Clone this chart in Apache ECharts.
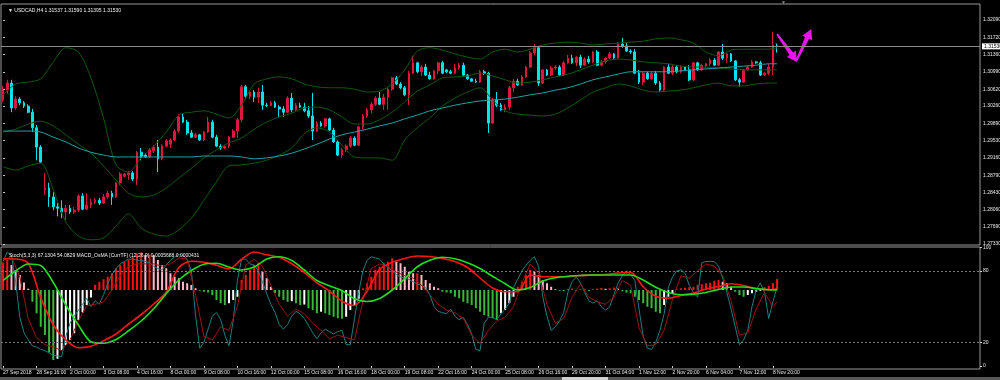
<!DOCTYPE html>
<html><head><meta charset="utf-8">
<script src="https://cdn.jsdelivr.net/npm/echarts@6/dist/echarts.min.js"></script>
<style>html,body{margin:0;padding:0;background:#000;}#c{width:1000px;height:380px;}</style>
</head><body><div id="c"></div>
<script>
// ---------- DATA ----------
const symbolHeader = '\u25BC USDCAD,H4 1.31537 1.31590 1.31395 1.31530';
const indicatorHeader = 'Stoch(5,3,3) 67.1304 54.0829 MACD_OsMA [CurrTF] (12,26,9) 0.0005688 0.0000431';
const priceTicks = [1.32090,1.31720,1.31360,1.30990,1.30620,1.30260,1.29890,1.29530,1.29160,1.28790,1.28430,1.28060,1.27690,1.27330];
const oscTicks = [0,20,80,100];
const firstLabel = '27 Sep 2018';
// [open, high, low, close]
const ohlc = [
[1.3039,1.3069,1.3035,1.3060],[1.3060,1.3082,1.3052,1.3075],[1.3075,1.3082,1.3013,1.3022],[1.3022,1.3047,1.3018,1.3041],[1.3041,1.3045,1.3028,1.3033],
[1.3033,1.3037,1.3022,1.3026],[1.3026,1.3030,1.3011,1.3013],[1.3013,1.3020,1.2971,1.2980],[1.2980,1.2986,1.2911,1.2939],[1.2939,1.2943,1.2905,1.2907],
[1.2848,1.2884,1.2837,1.2852],[1.2852,1.2863,1.2812,1.2833],[1.2833,1.2843,1.2805,1.2812],[1.2812,1.2820,1.2792,1.2809],[1.2809,1.2826,1.2788,1.2801],
[1.2801,1.2816,1.2784,1.2809],[1.2809,1.2816,1.2797,1.2801],[1.2801,1.2812,1.2797,1.2805],[1.2805,1.2839,1.2801,1.2835],[1.2835,1.2841,1.2805,1.2807],
[1.2807,1.2841,1.2805,1.2816],[1.2816,1.2829,1.2809,1.2822],[1.2822,1.2831,1.2818,1.2826],[1.2826,1.2831,1.2816,1.2820],[1.2820,1.2839,1.2818,1.2833],
[1.2833,1.2846,1.2829,1.2841],[1.2841,1.2846,1.2816,1.2833],[1.2833,1.2865,1.2831,1.2863],[1.2863,1.2886,1.2858,1.2882],[1.2877,1.2884,1.2875,1.2882],
[1.2880,1.2888,1.2869,1.2884],[1.2884,1.2888,1.2867,1.2871],[1.2871,1.2931,1.2858,1.2928],[1.2928,1.2937,1.2911,1.2918],[1.2922,1.2926,1.2916,1.2918],
[1.2918,1.2937,1.2916,1.2933],[1.2931,1.2943,1.2926,1.2939],[1.2939,1.2954,1.2886,1.2914],[1.2914,1.2945,1.2911,1.2941],[1.2941,1.2956,1.2939,1.2952],
[1.2945,1.2958,1.2937,1.2954],[1.2954,1.2977,1.2952,1.2973],[1.2973,1.3009,1.2969,1.3003],[1.3003,1.3011,1.2990,1.2992],[1.2992,1.2997,1.2965,1.2969],
[1.2969,1.2975,1.2958,1.2960],[1.2960,1.2969,1.2958,1.2965],[1.2965,1.2967,1.2952,1.2954],[1.2954,1.2973,1.2952,1.2971],[1.2971,1.3003,1.2969,1.2992],
[1.2992,1.2997,1.2958,1.2960],[1.2960,1.2965,1.2939,1.2941],[1.2941,1.2945,1.2933,1.2937],[1.2937,1.2943,1.2935,1.2941],[1.2941,1.2962,1.2937,1.2960],
[1.2960,1.2977,1.2958,1.2973],[1.2973,1.3001,1.2958,1.2997],[1.2997,1.3071,1.2992,1.3067],[1.3067,1.3071,1.3043,1.3047],[1.3047,1.3058,1.3041,1.3056],
[1.3056,1.3060,1.3035,1.3045],[1.3045,1.3065,1.3033,1.3056],[1.3056,1.3071,1.3018,1.3028],[1.3028,1.3033,1.3024,1.3027],[1.3027,1.3037,1.3026,1.3033],
[1.3033,1.3037,1.3022,1.3024],[1.3024,1.3028,1.3003,1.3020],[1.3020,1.3026,1.3003,1.3013],[1.3013,1.3047,1.3011,1.3043],[1.3043,1.3054,1.3013,1.3018],
[1.3018,1.3033,1.3016,1.3028],[1.3028,1.3033,1.3022,1.3024],[1.3024,1.3033,1.3013,1.3016],[1.3016,1.3026,1.3001,1.3005],[1.3005,1.3054,1.2954,1.2973],
[1.2973,1.2994,1.2971,1.2990],[1.2990,1.2994,1.2982,1.2984],[1.2984,1.3001,1.2980,1.2999],[1.2999,1.3001,1.2973,1.2975],[1.2975,1.2980,1.2948,1.2950],
[1.2950,1.2954,1.2920,1.2922],[1.2922,1.2937,1.2916,1.2933],[1.2933,1.2945,1.2928,1.2941],[1.2941,1.2962,1.2937,1.2958],[1.2958,1.2962,1.2941,1.2943],
[1.2943,1.2984,1.2941,1.2982],[1.2982,1.3009,1.2977,1.3005],[1.3005,1.3022,1.3001,1.3018],[1.3018,1.3035,1.3011,1.3030],[1.3030,1.3047,1.3026,1.3043],
[1.3043,1.3056,1.3028,1.3030],[1.3030,1.3052,1.3018,1.3045],[1.3045,1.3067,1.3018,1.3062],[1.3062,1.3088,1.3058,1.3086],[1.3086,1.3090,1.3071,1.3073],
[1.3073,1.3077,1.3062,1.3065],[1.3065,1.3069,1.3047,1.3050],[1.3050,1.3101,1.3028,1.3096],[1.3096,1.3133,1.3094,1.3118],[1.3118,1.3120,1.3096,1.3099],
[1.3099,1.3113,1.3090,1.3109],[1.3109,1.3116,1.3090,1.3092],[1.3092,1.3099,1.3082,1.3084],[1.3084,1.3103,1.3082,1.3101],[1.3101,1.3120,1.3094,1.3118],
[1.3118,1.3122,1.3094,1.3096],[1.3103,1.3105,1.3096,1.3099],[1.3099,1.3103,1.3094,1.3096],[1.3096,1.3116,1.3094,1.3107],[1.3107,1.3118,1.3103,1.3113],
[1.3113,1.3118,1.3090,1.3092],[1.3092,1.3094,1.3082,1.3084],[1.3084,1.3086,1.3077,1.3079],[1.3079,1.3084,1.3075,1.3077],[1.3077,1.3103,1.3075,1.3099],
[1.3099,1.3103,1.3092,1.3096],[1.3096,1.3099,1.2969,1.2990],[1.2990,1.3043,1.2988,1.3039],[1.3039,1.3056,1.3024,1.3028],[1.3028,1.3033,1.3016,1.3018],
[1.3018,1.3030,1.3013,1.3024],[1.3024,1.3069,1.3018,1.3065],[1.3065,1.3084,1.3056,1.3079],[1.3079,1.3084,1.3069,1.3071],[1.3071,1.3092,1.3069,1.3088],
[1.3088,1.3111,1.3086,1.3109],[1.3109,1.3143,1.3107,1.3139],[1.3139,1.3158,1.3135,1.3150],[1.3150,1.3154,1.3069,1.3075],[1.3075,1.3105,1.3073,1.3103],
[1.3103,1.3105,1.3090,1.3092],[1.3092,1.3111,1.3090,1.3107],[1.3107,1.3113,1.3103,1.3109],[1.3109,1.3113,1.3090,1.3092],[1.3092,1.3122,1.3090,1.3118],
[1.3118,1.3135,1.3116,1.3128],[1.3128,1.3135,1.3116,1.3118],[1.3118,1.3133,1.3111,1.3130],[1.3130,1.3135,1.3107,1.3113],[1.3113,1.3130,1.3111,1.3126],
[1.3126,1.3133,1.3116,1.3120],[1.3120,1.3143,1.3118,1.3141],[1.3141,1.3145,1.3111,1.3113],[1.3113,1.3124,1.3111,1.3120],[1.3120,1.3130,1.3116,1.3128],
[1.3128,1.3141,1.3126,1.3137],[1.3137,1.3139,1.3124,1.3128],[1.3128,1.3162,1.3126,1.3158],[1.3158,1.3171,1.3150,1.3154],[1.3154,1.3160,1.3141,1.3143],
[1.3143,1.3147,1.3137,1.3141],[1.3141,1.3147,1.3094,1.3096],[1.3096,1.3103,1.3073,1.3077],[1.3077,1.3099,1.3071,1.3096],[1.3096,1.3099,1.3082,1.3084],
[1.3084,1.3099,1.3082,1.3096],[1.3096,1.3101,1.3071,1.3075],[1.3075,1.3079,1.3056,1.3060],[1.3060,1.3111,1.3056,1.3109],[1.3109,1.3116,1.3094,1.3096],
[1.3096,1.3113,1.3092,1.3109],[1.3109,1.3113,1.3096,1.3099],[1.3099,1.3113,1.3096,1.3109],[1.3109,1.3111,1.3101,1.3103],[1.3103,1.3113,1.3079,1.3082],
[1.3082,1.3120,1.3079,1.3118],[1.3118,1.3120,1.3101,1.3103],[1.3103,1.3116,1.3101,1.3113],[1.3111,1.3118,1.3107,1.3116],[1.3116,1.3128,1.3111,1.3124],
[1.3124,1.3128,1.3111,1.3113],[1.3113,1.3143,1.3111,1.3141],[1.3141,1.3158,1.3124,1.3128],[1.3128,1.3139,1.3118,1.3137],[1.3137,1.3139,1.3120,1.3122],
[1.3122,1.3124,1.3079,1.3082],[1.3082,1.3086,1.3067,1.3077],[1.3077,1.3105,1.3075,1.3103],[1.3103,1.3111,1.3101,1.3109],[1.3109,1.3124,1.3107,1.3120],
[1.3120,1.3122,1.3116,1.3118],[1.3118,1.3122,1.3090,1.3092],[1.3092,1.3099,1.3090,1.3096],[1.3096,1.3116,1.3092,1.3109],[1.3109,1.3184,1.3092,1.3156],
[1.31537,1.31590,1.31395,1.31530]
];
// Bollinger bands & slow MA, read every 3rd bar (0,3,...,183, then 185)
const bbUpper = [1.3050,1.3073,1.3077,1.3084,1.3120,1.3150,1.3141,1.3086,1.3001,1.2901,1.2886,1.2916,1.2941,1.2971,1.3007,1.3013,1.3016,1.3009,1.3001,1.3028,
1.3073,1.3084,1.3088,1.3084,1.3073,1.3067,1.3065,1.3065,1.3062,1.3056,1.3058,1.3073,1.3103,1.3143,1.3150,1.3145,1.3137,1.3130,1.3126,1.3141,
1.3147,1.3141,1.3147,1.3156,1.3160,1.3162,1.3160,1.3156,1.3158,1.3160,1.3162,1.3164,1.3169,1.3171,1.3167,1.3160,1.3141,1.3133,1.3145,1.3147,
1.3147,1.3147,1.3150];
const bbMiddle = [1.2971,1.2977,1.2988,1.2994,1.2984,1.2965,1.2945,1.2926,1.2899,1.2869,1.2841,1.2833,1.2837,1.2852,1.2873,1.2894,1.2916,1.2933,1.2948,1.2958,
1.2977,1.2992,1.3003,1.3011,1.3022,1.3024,1.3018,1.3003,1.2988,1.2988,1.2997,1.3013,1.3035,1.3058,1.3071,1.3086,1.3088,1.3090,1.3096,1.3090,
1.3082,1.3075,1.3077,1.3082,1.3088,1.3094,1.3103,1.3113,1.3122,1.3126,1.3124,1.3120,1.3118,1.3116,1.3111,1.3109,1.3109,1.3107,1.3105,1.3103,
1.3103,1.3103,1.3103];
const bbLower = [1.2897,1.2890,1.2899,1.2905,1.2848,1.2780,1.2750,1.2742,1.2746,1.2771,1.2797,1.2767,1.2754,1.2750,1.2763,1.2788,1.2826,1.2865,1.2899,1.2901,
1.2905,1.2911,1.2922,1.2937,1.2967,1.2980,1.2971,1.2943,1.2918,1.2916,1.2916,1.2911,1.2954,1.2980,1.3001,1.3026,1.3043,1.3056,1.3065,1.3039,
1.3016,1.3009,1.3007,1.3005,1.3009,1.3022,1.3039,1.3056,1.3065,1.3073,1.3069,1.3060,1.3056,1.3058,1.3060,1.3065,1.3071,1.3075,1.3069,1.3069,
1.3073,1.3075,1.3075];
const slowMA = [1.2973,1.2973,1.2973,1.2971,1.2960,1.2950,1.2937,1.2928,1.2922,1.2918,1.2918,1.2918,1.2918,1.2918,1.2918,1.2918,1.2920,1.2920,1.2920,1.2918,
1.2914,1.2916,1.2920,1.2926,1.2935,1.2945,1.2956,1.2965,1.2971,1.2977,1.2984,1.2990,1.2999,1.3007,1.3016,1.3022,1.3028,1.3033,1.3037,1.3039,
1.3041,1.3045,1.3050,1.3054,1.3060,1.3065,1.3073,1.3082,1.3088,1.3094,1.3099,1.3099,1.3099,1.3099,1.3101,1.3103,1.3105,1.3107,1.3109,1.3111,
1.3113,1.3116,1.3116];
// MACD lines (pips), read every 3rd bar
const macdMain = [12.5,12.4,10.7,-3,-14,-20,-23.1,-22.5,-20.3,-17.6,-13.6,-9.8,-5.6,-0.8,9,11.5,11.1,9.9,8.5,12.3,
15.2,14.1,13.1,10.5,7,2.9,-0.4,-4.5,-6.2,-0.5,8.2,11.1,12.6,13.6,13.4,12.6,11.4,9,4.8,0.8,
-0.7,-0.7,6,5.3,5.3,5.3,5.8,6,6.2,6.8,7,1.3,-2.5,-3.3,-2.2,-1.2,0.4,1.4,2.5,1.8,
0.5,0.1,0.5];
const macdSignal = [3.8,7.6,10.4,9.8,3,-6,-14,-20.7,-21.3,-19.8,-16.3,-12.4,-7.5,-1.5,4,7.8,10.3,10.7,9.2,8,
9.2,12.4,13.3,11.8,8,3.8,1.7,-0.2,-3.5,-4.6,-3.4,0,4.5,9.3,11.9,13.1,12.5,10.9,8.6,5.5,
2.5,0,1,3.6,4.9,5.5,5.8,6,6,6,6,4,1.1,-1,-1.9,-1.7,-1,0.2,1.2,1.2,
0.6,0.1,0];
// OsMA histogram (pips), every bar
const osma = [
11,12,10,8,6,3,0.5,-4.7,-9.3,-14.7, -18,-25,-28,-27.5,-24,-22,-20,-17.3,-12,-9,
-6,-3,2,3.3,4.3,5.3,6.7,8.7,10,11.3, 12,13.3,14.7,15,14,14.2,14,12,10,8.7,
6.7,5.3,4.7,3.3,2.7,2,0.7,-0.3,-0.7,-1, -2,-4,-5.3,-6,-5.3,-4,-2.7,4,6,8,
10,10.7,7.3,4.7,1.3,-1.3,-2.7,-4,-4.7,-4.5, -5.3,-6,-5.8,-7.3,-8,-9.3,-8.7,-9.3,-10,-10.7,
-11.3,-11.5,-10.7,-8,-6,-3.5,0.7,2.7,5.3,8, 9.3,10.7,11.3,12.7,11.3,10.7,9.3,7.3,6.7,6.7,
6,4,2.7,1.3,0.7,-0.7,-1,-1.3,-2.7,-3.3, -4.7,-5.3,-6,-7.3,-8.7,-10,-10.7,-11.3,-12,-9.3,
-8,-5.3,-2.7,1.3,3.3,6,8,7.3,6,4, 2.7,1.3,0.3,-0.3,-0.5,0.4,0.6,-0.3,0.3,0.5,
-0.4,0.3,0.6,0.8,0.5,0.7,1.0,0.6,-0.5,-1.0, -1.3,-2.7,-4,-5.3,-6.7,-7.3,-8.7,-9.3,-6,-2.7,
-1.3,0.3,0.7,0.9,1.1,1.3,2,2.3,2.7,2.9, 3.7,4,3.3,2.7,1.3,-0.7,-2,-2.7,-2,-1.3,
-0.7,-0.3,1.1,1.6,2.7,4.4];
// Stochastic main, every bar
const stochMain = [
88,96,93,71,41,28,22,17,16,14, 13,11,9,8.5,8,25,36,42,47,52, 57,50,55,52,60,69,77,82,86,88,
90,90,89,89,88,87,84,82,81,85, 89,92,94,93,90,80,43,15,20,31, 42,45,39,26,17,38,72,90,90,86,
85,80,71,61,52,45,35,31,35,42, 46,44,40,34,28,23,28,31,29,27, 29,30,18,18,40,62,80,89,92,91,
90,86,83,80,77,75,74,73,71,69, 68,66,60,50,46,45,44,48,42,39, 41,35,27,14,13,36,41,41,39,44,
48,53,66,73,80,85,89,92,84,58, 42,30,33,38,45,62,71,75,70,62, 55,53,55,50,47,50,60,70,76,80,
77,72,48,25,15,14,20,30,44,66, 75,80,81,78,68,62,58,87,88,88, 88,84,74,62,48,33,18,22,30,50,
64,70,62,40,54,67];
// Stochastic signal, read every 2nd bar (0,2,...,184, then 185)
const stochSignal = [89,92,75,40,24,18,16,13,22,38, 51,52,54,64,76,84,86,86,86,84, 86,91,90,60,25,22,33,30,50,85,
90,84,68,52,42,48,44,36,30,23, 26,24,22,55,82,86,84,79,76,74, 68,60,52,47,45,40,26,19,30,38,
41,50,70,86,78,52,36,40,58,69, 58,54,52,58,72,68,32,17,18,30, 56,76,74,80,86,84,76,55,26,28,
48,62,50,54];
// hand-drawn arrow annotation: [barFrom, priceFrom, barTo, priceTo]
const arrows = [[185.0,1.3179,189.8,1.3120],[189.6,1.3122,193.2,1.3190]];

// ---------- BUILD ----------
const MONTHS=['Jan','Feb','Mar','Apr','May','Jun','Jul','Aug','Sep','Oct','Nov','Dec'];
const SLOTS = 234;
const cats=[];
let t=Date.UTC(2018,8,27,8);
while(cats.length<SLOTS){
  const d=new Date(t), wd=d.getUTCDay();
  const sundayOpen = d.getUTCMonth()===9 && d.getUTCDate()===28 && d.getUTCHours()===20;
  if((wd!==0 && wd!==6) || sundayOpen){
    cats.push(d.getUTCDate()+' '+MONTHS[d.getUTCMonth()]+' '+String(d.getUTCHours()).padStart(2,'0')+':00');
  }
  t+=4*3600e3;
}
const nBars = ohlc.length;
const candleData = ohlc.map(r=>[r[0],r[3],r[2],r[1]]);
const every3 = a=>a.map((v,k)=>[k<a.length-1?k*3:nBars-1,v]);
const every2 = a=>a.map((v,k)=>[k<a.length-1?k*2:nBars-1,v]);
const histData = osma.map((v,i)=>{
  const p = i>0?osma[i-1]:v;
  let c;
  if(v>=0) c = (v>=p)?'#ff1010':'#ffb8c8';
  else c = (v<p)?'#38b838':'#ffffff';
  return {value:v,itemStyle:{color:c}};
});
const lastClose = ohlc[nBars-1][3];
const FONT = 'Liberation Sans, Arial, sans-serif';
const labelColor = '#e8e8e8';
const isLabelIdx = (idx)=> idx%8===0 && idx<=nBars-2;

const chart = echarts.init(document.getElementById('c'), null, {renderer:'canvas'});
const option = {
  backgroundColor:'#000',
  animation:false,
  title:[
    {text:symbolHeader,left:3,top:3,textStyle:{color:'#f0f0f0',fontSize:5,fontWeight:'normal',fontFamily:FONT}},
    {text:indicatorHeader,left:4,top:248,textStyle:{color:'#f0f0f0',fontSize:5,fontWeight:'normal',fontFamily:FONT}}
  ],
  grid:[
    {left:1,right:20,top:4,height:241,show:true,borderColor:'#9a9a9a',borderWidth:1,backgroundColor:'transparent',outerBoundsMode:'none',containLabel:false},
    {left:1,right:20,top:247,height:122,show:true,borderColor:'#9a9a9a',borderWidth:1,backgroundColor:'transparent',outerBoundsMode:'none',containLabel:false}
  ],
  xAxis:[
    {type:'category',gridIndex:0,data:cats,boundaryGap:true,show:false},
    {type:'category',gridIndex:1,data:cats,boundaryGap:true,
      axisLine:{show:false},
      axisTick:{show:true,alignWithLabel:true,length:2,interval:(i)=>isLabelIdx(i),lineStyle:{color:'#cfcfcf'}},
      axisLabel:{show:true,interval:(i)=>isLabelIdx(i),align:'left',margin:1,color:labelColor,fontSize:5,fontFamily:FONT,
        formatter:(v,i)=> i===0?firstLabel:v},
      splitLine:{show:false}},
    {type:'value',gridIndex:0,min:-0.5,max:SLOTS-0.5,show:false}
  ],
  yAxis:[
    {type:'value',gridIndex:0,position:'right',min:1.27309,max:1.32430,
      axisLine:{show:false},splitLine:{show:false},
      axisTick:{show:true,length:2,customValues:priceTicks,lineStyle:{color:'#cfcfcf'}},
      axisLabel:{show:true,customValues:priceTicks,margin:3,color:labelColor,fontSize:5,fontFamily:FONT,formatter:v=>v.toFixed(5)}},
    {type:'value',gridIndex:1,position:'right',min:-2.5,max:100.2,
      axisLine:{show:false},splitLine:{show:false},
      axisTick:{show:true,length:2,customValues:oscTicks,lineStyle:{color:'#cfcfcf'}},
      axisLabel:{show:true,customValues:oscTicks,margin:3,color:labelColor,fontSize:5,fontFamily:FONT,formatter:v=>String(v)}},
    {type:'value',gridIndex:1,min:-31.6,max:17.2,show:false}
  ],
  series:[
    {type:'candlestick',xAxisIndex:0,yAxisIndex:0,data:candleData,barWidth:2.2,
      itemStyle:{color:'#e3143d',color0:'#00e4ec',borderColor:'#e3143d',borderColor0:'#00e4ec',borderWidth:1}},
    {type:'line',xAxisIndex:0,yAxisIndex:0,data:every3(bbUpper),smooth:0.3,symbol:'none',lineStyle:{color:'#0e5a0e',width:1}},
    {type:'line',xAxisIndex:0,yAxisIndex:0,data:every3(bbMiddle),smooth:0.3,symbol:'none',lineStyle:{color:'#0e5a0e',width:1},
      markLine:{symbol:'none',silent:true,animation:false,precision:5,
        lineStyle:{color:'#8c8c8c',width:1,type:'solid'},
        label:{show:true,position:'end',distance:2,formatter:lastClose.toFixed(5),color:'#000',backgroundColor:'#ffffff',
          padding:[1,2,0,2],fontSize:5,fontFamily:FONT},
        data:[{yAxis:lastClose}]}},
    {type:'line',xAxisIndex:0,yAxisIndex:0,data:every3(bbLower),smooth:0.3,symbol:'none',lineStyle:{color:'#0e5a0e',width:1}},
    {type:'line',xAxisIndex:0,yAxisIndex:0,data:every3(slowMA),smooth:0.3,symbol:'none',lineStyle:{color:'#1ea3a3',width:1}},
    {type:'custom',xAxisIndex:2,yAxisIndex:0,data:arrows,clip:false,encode:{x:[0,2],y:[1,3]},
      renderItem:(params,api)=>{
        const p1=api.coord([api.value(0),api.value(1)]);
        const p2=api.coord([api.value(2),api.value(3)]);
        const dx=p2[0]-p1[0],dy=p2[1]-p1[1],L=Math.hypot(dx,dy);
        const ux=dx/L,uy=dy/L,nx=-uy,ny=ux;
        const hl=10,hw=5.5,s0=0.9,s1=2.2;
        const b=[p2[0]-ux*hl,p2[1]-uy*hl];
        const pts=[[p1[0]+nx*s0,p1[1]+ny*s0],[b[0]+nx*s1,b[1]+ny*s1],[b[0]+nx*hw,b[1]+ny*hw],p2,
          [b[0]-nx*hw,b[1]-ny*hw],[b[0]-nx*s1,b[1]-ny*s1],[p1[0]-nx*s0,p1[1]-ny*s0]];
        return {type:'polygon',shape:{points:pts},style:{fill:'#f010f0'}};
      }},
    {type:'bar',xAxisIndex:1,yAxisIndex:2,data:histData,barWidth:2,barGap:'0%'},
    {type:'line',xAxisIndex:1,yAxisIndex:1,data:stochMain,symbol:'none',lineStyle:{color:'#1b7d82',width:1},
      markLine:{symbol:'none',silent:true,animation:false,precision:2,label:{show:false},
        lineStyle:{color:'#7a7a7a',width:1,type:[2,2]},data:[{yAxis:80},{yAxis:20}]}},
    {type:'line',xAxisIndex:1,yAxisIndex:1,data:every2(stochSignal),symbol:'none',lineStyle:{color:'#9a1212',width:1}},
    {type:'line',xAxisIndex:1,yAxisIndex:2,data:every3(macdMain),smooth:0.3,symbol:'none',lineStyle:{color:'#ff1414',width:1.6}},
    {type:'line',xAxisIndex:1,yAxisIndex:2,data:every3(macdSignal),smooth:0.3,symbol:'none',lineStyle:{color:'#1ee01e',width:1.6}}
  ],
  graphic:[
    {type:'rect',left:0,top:377,shape:{width:1000,height:3},style:{fill:'#585858'},silent:true},
    {type:'rect',left:562,top:377,shape:{width:46,height:3},style:{fill:'#d0d0d0'},silent:true},
    {type:'text',left:781,top:0,style:{text:'\u25BC',fill:'#8a8a8a',fontSize:5,fontFamily:FONT},silent:true}
  ]
};
chart.setOption(option);
</script>
</body></html>
